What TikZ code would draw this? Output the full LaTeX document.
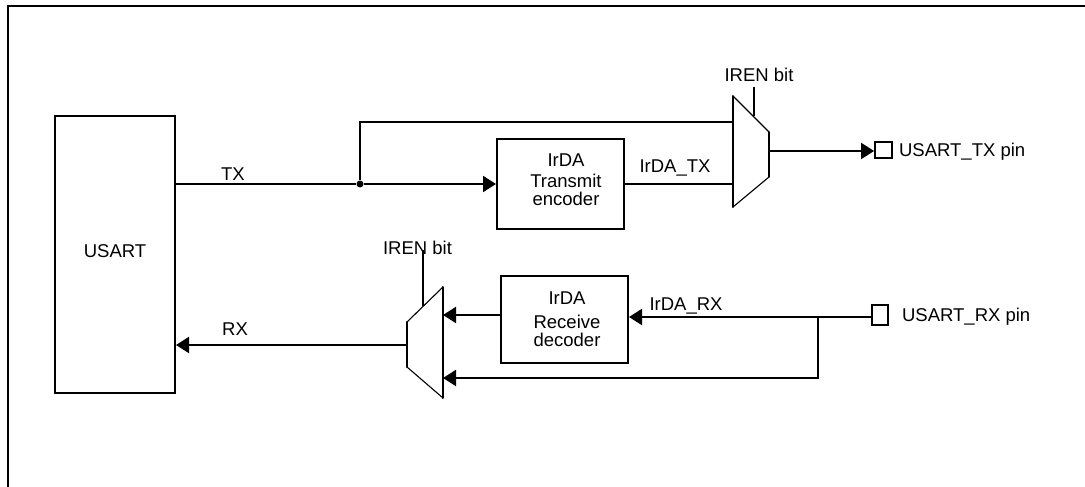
\documentclass[tikz,border=0pt]{standalone}
\usepackage{fontspec}
\setmainfont{Liberation Sans}
\usepackage{tikz}
\usetikzlibrary{arrows.meta,positioning,calc}
\tikzset{
  block/.style={draw,line width=2pt,minimum width=127pt,inner sep=0pt},
  blocktext/.style={align=center,inner sep=0pt,font=\fontsize{18.5}{18}\selectfont},
  siglabel/.style={inner sep=0pt,font=\fontsize{18.5}{20}\selectfont},
  pinbox/.style={draw,line width=1.8pt,inner sep=0pt},
  arr/.style={-{Triangle[length=13pt,width=16pt]},line width=2pt},
  wire/.style={line width=2pt},
  muxside/.style={line width=2pt,line cap=round},
  muxedge/.style={line width=1.1pt},
  fork/.style={circle,fill,inner sep=0pt,minimum size=7pt}
}
\begin{document}
\begin{tikzpicture}[x=1pt,y=-1pt]
  \useasboundingbox (0,0) rectangle (1085,487);
  \draw[wire] (8,487)--(8,6)--(1085,6);

  \node[block,minimum width=120pt,minimum height=277pt,font=\fontsize{18.5}{20}\selectfont] (usart) at (115,254.5) {\raisebox{6pt}{USART}};
  \node[block,minimum height=90pt] (enc) at (560.5,184) {};
  \node[blocktext] (enctext) at (566,179.5) {IrDA\hspace{8pt}\\[3pt]Transmit\\encoder};
  \node[block,minimum height=87pt] (dec) at (564.5,319.5) {};
  \node[blocktext] (dectext) at (567,319.5) {IrDA\\[6pt]Receive\\decoder};

  % transmit path
  \coordinate (txmuxa) at (733,96);
  \coordinate (txmuxb) at (733,207);
  \coordinate (txmuxc) at (769,132);
  \coordinate (txmuxd) at (769,177);
  \draw[muxside] (txmuxa)--(txmuxb); \draw[muxside] (txmuxc)--(txmuxd);
  \draw[muxedge] (txmuxa)--(txmuxc); \draw[muxedge] (txmuxb)--(txmuxd);
  \node[fork] (txfork) at (360,184) {};
  \node[pinbox,minimum width=17pt,minimum height=16pt] (txpin) at (883.5,150) {};
  \node[siglabel,right=6pt of txpin,yshift=-1.5pt] (txpinlabel) {USART\_TX pin};
  \coordinate (txmuxup) at (733,122);
  \coordinate (txmuxlow) at (733,184);
  \coordinate (txmuxout) at (769,151);
  \coordinate (txirena) at (754,87);
  \coordinate (txirenb) at (754,116);
  \draw[wire] (usart.east |- txfork)--(txfork);
  \draw[arr] (txfork)--(enc.west |- txfork);
  \draw[wire] (txfork)--(txfork |- txmuxup)--(txmuxup);
  \draw[wire] (enc.east |- txmuxlow)--(txmuxlow);
  \draw[arr] (txmuxout)--(txpin.west |- txmuxout);
  \draw[wire] (txirena)--(txirenb);
  \node[siglabel] (txiren) at (759,75) {IREN bit};
  \node[siglabel] (txlabel) at (233,174) {TX};
  \node[siglabel] (irdatx) at (675,168) {IrDA\_TX};

  % receive path
  \coordinate (rxmuxa) at (443,287);
  \coordinate (rxmuxb) at (443,398);
  \coordinate (rxmuxc) at (407,322);
  \coordinate (rxmuxd) at (407,367);
  \draw[muxside] (rxmuxa)--(rxmuxb); \draw[muxside] (rxmuxc)--(rxmuxd);
  \draw[muxedge] (rxmuxa)--(rxmuxc); \draw[muxedge] (rxmuxb)--(rxmuxd);
  \node[pinbox,minimum width=16pt,minimum height=20pt] (rxpin) at (880,315) {};
  \node[siglabel,right=13pt of rxpin,yshift=-1.5pt] (rxpinlabel) {USART\_RX pin};
  \coordinate (rxfork) at (818,317);
  \coordinate (rxmuxup) at (443,315);
  \coordinate (rxmuxlow) at (443,378);
  \coordinate (rxmuxout) at (407,345);
  \coordinate (rxirena) at (423,250);
  \coordinate (rxirenb) at (423,306);
  \draw[wire] (rxpin.west |- rxfork)--(rxfork);
  \draw[arr] (rxfork)--(dec.east |- rxfork);
  \draw[arr] (dec.west |- rxmuxup)--(rxmuxup);
  \draw[arr] (rxfork)--(rxfork |- rxmuxlow)--(rxmuxlow);
  \draw[arr] (rxmuxout)--(usart.east |- rxmuxout);
  \draw[wire] (rxirena)--(rxirenb);
  \node[siglabel] (rxiren) at (417.5,248) {IREN bit};
  \node[siglabel] (rxlabel) at (235,329) {RX};
  \node[siglabel] (irdarx) at (686,306) {IrDA\_RX};
\end{tikzpicture}
\end{document}
